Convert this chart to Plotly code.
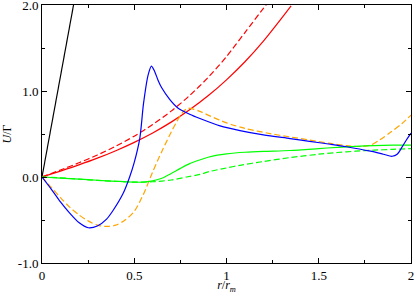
import plotly.graph_objects as go

# black (steep line)
black_x = [0.0, 0.171]
black_y = [0.0, 2.0]

# red solid / dashed
red_x = [0.0, 0.1, 0.2, 0.3, 0.4, 0.5, 0.6, 0.7, 0.8, 0.9, 1.0, 1.1, 1.2, 1.3, 1.35]
red_y = [0.0, 0.069, 0.141, 0.219, 0.306, 0.403, 0.512, 0.638, 0.781, 0.944, 1.13, 1.34, 1.58, 1.85, 1.99]
redd_x = [0.0, 0.1, 0.2, 0.3, 0.4, 0.5, 0.6, 0.7, 0.8, 0.9, 1.0, 1.1, 1.2, 1.215]
redd_y = [0.0, 0.081, 0.165, 0.256, 0.358, 0.475, 0.61, 0.766, 0.947, 1.157, 1.40, 1.68, 1.96, 2.0]

# blue solid
blue_x = [0.0, 0.05, 0.1, 0.15, 0.2, 0.25, 0.3, 0.35, 0.385, 0.44, 0.475, 0.5, 0.53, 0.55, 0.575,
          0.593, 0.61, 0.63, 0.648, 0.693, 0.738, 0.8, 0.856, 0.965, 1.073, 1.2, 1.345,
          1.45, 1.5625, 1.65, 1.78, 1.85, 1.898, 1.925, 1.952, 1.975, 2.0]
blue_y = [0.0, -0.14, -0.29, -0.42, -0.53, -0.59, -0.57, -0.49, -0.39, -0.19, 0.0, 0.17, 0.45, 0.85, 1.185,
          1.29, 1.23, 1.12, 1.04, 0.90, 0.80, 0.73, 0.68, 0.595, 0.54, 0.49, 0.447,
          0.415, 0.381, 0.352, 0.30, 0.265, 0.241, 0.265, 0.35, 0.43, 0.51]

# orange dashed
orange_x = [0.0, 0.05, 0.1, 0.15, 0.2, 0.25, 0.3, 0.35, 0.4, 0.45, 0.5, 0.55, 0.6, 0.65, 0.7,
            0.74, 0.77, 0.79, 0.82, 0.86, 0.9, 1.0, 1.1, 1.236, 1.345, 1.45, 1.5625, 1.65,
            1.726, 1.78, 1.83, 1.889, 1.95, 2.0]
orange_y = [0.0, -0.12, -0.24, -0.35, -0.44, -0.51, -0.56, -0.575, -0.56, -0.5, -0.4, -0.2, 0.06, 0.3, 0.52,
            0.68, 0.77, 0.80, 0.79, 0.76, 0.72, 0.63, 0.565, 0.505, 0.466, 0.43, 0.39, 0.365,
            0.355, 0.37, 0.43, 0.52, 0.62, 0.72]

# green solid / dashed
green_x = [0.0, 0.1, 0.2, 0.3, 0.4, 0.5, 0.55, 0.6, 0.65, 0.7, 0.75, 0.8, 0.85, 0.9, 0.95, 1.0,
           1.1, 1.2, 1.345, 1.5, 1.6, 1.7, 1.8, 1.9, 2.0]
green_y = [0.0, -0.012, -0.025, -0.038, -0.05, -0.06, -0.06, -0.045, -0.015, 0.04, 0.1, 0.155, 0.195, 0.23, 0.255, 0.27,
           0.288, 0.298, 0.308, 0.33, 0.345, 0.357, 0.365, 0.37, 0.37]
greend_x = [0.0, 0.1, 0.2, 0.3, 0.4, 0.5, 0.6, 0.7, 0.784, 0.856, 0.91, 1.0, 1.073, 1.2, 1.345, 1.5, 1.6, 1.7, 1.8, 1.9, 2.0]
greend_y = [0.0, -0.01, -0.025, -0.04, -0.05, -0.06, -0.055, -0.035, 0.0, 0.03, 0.065, 0.105, 0.136, 0.18, 0.226, 0.265, 0.285, 0.3, 0.312, 0.322, 0.33]

x_ticks = [0, 0.5, 1, 1.5, 2]
x_tick_labels = ["0", "0.5", "1", "1.5", "2"]
y_ticks = [-1, 0, 1, 2]
y_tick_labels = ["-1.0", "0.0", "1.0", "2.0"]

fig = go.Figure()
W = 1.2

def add(x, y, color, dash="solid"):
    fig.add_trace(go.Scatter(x=x, y=y, mode="lines",
                             line=dict(color=color, width=W, dash=dash, shape="spline", smoothing=0.8),
                             showlegend=False, hoverinfo="skip"))

add(black_x, black_y, "#000000")
add(redd_x, redd_y, "#ff0000", "6px,3px")
add(red_x, red_y, "#ff0000")
add(orange_x, orange_y, "#ffa500", "6px,3px")
add(greend_x, greend_y, "#00ff00", "6px,3px")
add(green_x, green_y, "#00ff00")
add(blue_x, blue_y, "#0000ff")

font = dict(family="Liberation Serif, Times New Roman, serif", size=13, color="black")
axis_common = dict(showline=True, linecolor="black", linewidth=1, mirror="ticks",
                   ticks="inside", ticklen=5, tickcolor="black", tickwidth=1,
                   showgrid=False, zeroline=False, tickfont=font, automargin=False,
                   ticklabeloverflow="allow")

fig.update_xaxes(range=[0, 2], tickvals=x_ticks, ticktext=x_tick_labels,
                 minor=dict(dtick=0.25, ticks="inside", ticklen=3, tickcolor="black", showgrid=False),
                 title=dict(text="<i>r</i>/<i>r</i><sub><i>m</i></sub>", font=dict(family=font["family"], size=12, color="black"), standoff=0),
                 **axis_common)
fig.update_yaxes(range=[-1, 2], tickvals=y_ticks, ticktext=y_tick_labels,
                 minor=dict(dtick=0.5, ticks="inside", ticklen=3, tickcolor="black", showgrid=False),
                 title=dict(text="<i>U</i>/Γ", font=dict(family=font["family"], size=12, color="black"), standoff=6),
                 **axis_common)

fig.update_layout(width=415, height=294, margin=dict(l=42, r=4, t=5, b=31),
                  plot_bgcolor="white", paper_bgcolor="white", font=font)

fig.write_html("out.html", config={"displayModeBar": False},
               post_script="document.body.style.margin='0';document.body.style.overflow='hidden';")
